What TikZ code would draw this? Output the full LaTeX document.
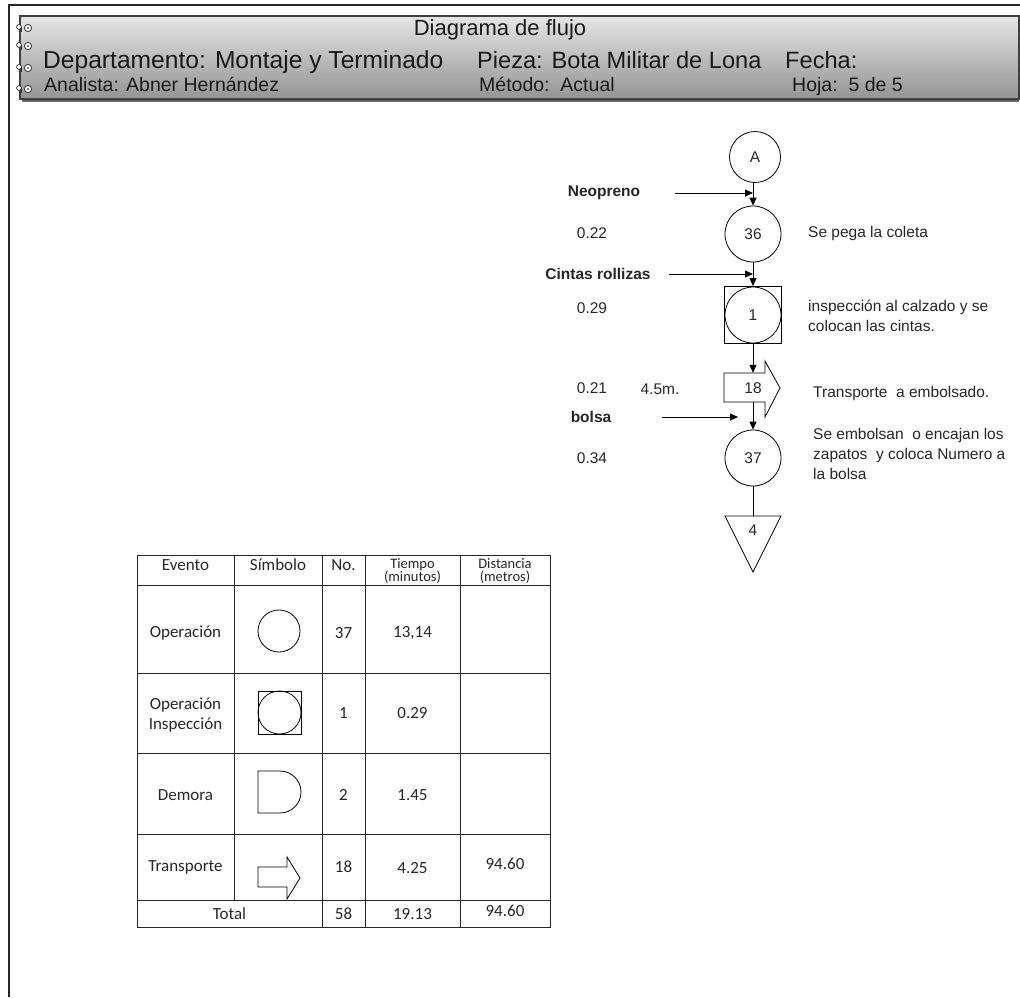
\documentclass[tikz,border=0pt]{standalone}
\usepackage{fontspec}
\setmainfont{Liberation Sans}
\newfontfamily\calfont{Carlito}
\usetikzlibrary{arrows.meta}
\newcommand\pxf[1]{\fontsize{#1}{#1}\selectfont}
\newcommand\pxfl[2]{\fontsize{#1}{#2}\selectfont}
\begin{document}
\begin{tikzpicture}[x=1pt,y=-1pt,
  txt/.style={inner sep=0pt,text=black!85,font=\pxf{15.5}},
  btxt/.style={inner sep=0pt,text=black!85,font=\pxf{15.5}\bfseries},
  opc/.style={circle,draw,line width=0.8pt,minimum size=56pt,inner sep=0pt,text=black!85,font=\pxf{15.5}},
  arr/.style={-{Triangle[length=8pt,width=7pt]},line width=0.8pt},
  ln/.style={line width=0.8pt},
  tline/.style={line width=1pt,black!85},
  ttxt/.style={inner sep=0pt,text=black!85,font=\calfont\pxf{17}},
  htxt/.style={inner sep=0pt,anchor=base west,text=black!90},
  ring/.style={line width=0.8pt,black!80}]
\useasboundingbox (0,0) rectangle (1020,997);
% page border
\draw[line width=1.3pt,black!85] (9,997) -- (9,5) -- (1020,5);
% header banner
\fill[black!55] (22,97) rectangle (1019,102);
\shade[top color=black!10,bottom color=black!42] (20,16) rectangle (1019,99);
\draw[line width=1.2pt,black!75] (20,16) rectangle (1019,99);
\draw[line width=1.5pt,black!65] (22,100.5) -- (1019,100.5);
\foreach \yy in {28,46,68,89}{
  \draw[ring,fill=white] (19,\yy-1) circle (2.4);
  \draw[ring] (21.4,\yy-1) -- (21.4,\yy+4);
  \draw[ring,fill=white] (28,\yy) circle (3.6);
  \fill[black!70] (28,\yy) circle (1.1);
}
\node[inner sep=0pt,anchor=base,text=black!90,font=\pxf{22}] (title) at (500,35) {Diagrama de flujo};
\node[htxt,font=\pxf{24.6}] (dep) at (43,68) {Departamento: Montaje y Terminado};
\node[htxt,font=\pxf{23.6}] (pie) at (477,68) {Pieza: Bota Militar de Lona};
\node[htxt,font=\pxf{23.6}] (fec) at (785,68) {Fecha:};
\node[htxt,font=\pxf{19.5}] (ana) at (44,91) {Analista: Abner Hernández};
\node[htxt,font=\pxf{19.5}] (met) at (479,91) {Método:\ \ Actual};
\node[htxt,font=\pxf{19.5}] (hoj) at (792,91) {Hoja:\ \ 5 de 5};
% flow chart
\node[opc,minimum size=51pt] (A) at (755,157) {A};
\node[opc] (o36) at (753,234) {36};
\node[draw,line width=0.8pt,minimum size=57pt,inner sep=0pt,text=black!85,font=\pxf{15.5}] (i1) at (753,315) {1};
\draw[ln] (i1.center) circle (28);
\draw[ln,fill=white] (724,373) -- (765,373) -- (765,361) -- (780,388) -- (765,417) -- (765,402) -- (724,402) -- cycle;
\node[minimum width=41pt,minimum height=29pt,inner sep=0pt] (t18) at (744.5,387.5) {};
\node[txt] (t18lbl) at (753,388) {18};
\node[opc] (o37) at (753,458) {37};
\draw[ln] (725,516) -- (781,516) -- (753,572) -- cycle;
\coordinate (tri) at (753,516);
\node[txt] (s4) at (753,530) {4};
% connectors
\draw[arr] (o36.north |- A.south) -- (o36.north);
\draw[arr] (o36.south) -- (o36.south |- i1.north);
\draw[arr] (i1.south -| o37.north) -- (o37.north |- t18.north);
\draw[arr] (o37.north |- t18.south) -- (o37.north);
\draw[ln] (o37.south) -- (tri);
\coordinate (n0) at (675,193); \coordinate (n1) at (753,193);
\coordinate (c0) at (669,274); \coordinate (c1) at (753,274);
\coordinate (b0) at (662,417); \coordinate (b1) at (738,417);
\draw[arr] (n0) -- (n1);
\draw[arr] (c0) -- (c1);
\draw[arr] (b0) -- (b1);
% labels
\node[btxt] (neo) at (604,193) {Neopreno};
\node[btxt] (cin) at (598,274) {Cintas rollizas};
\node[btxt] (bol) at (591,417) {bolsa};
\node[txt] (v1) at (592,233) {0.22};
\node[txt] (v2) at (592,308) {0.29};
\node[txt] (v3) at (592,388) {0.21};
\node[txt] (v4) at (592,458) {0.34};
\node[txt] (dist) at (660,389) {4.5m.};
\node[txt,anchor=west] (d1) at (808,233) {Se pega la coleta};
\node[txt,anchor=north west,align=left,font=\pxfl{15.5}{20}] (d2) at (808,300) {inspección al calzado y se\\colocan las cintas.};
\node[txt,anchor=west] (d3) at (813,393) {Transporte\ \ a embolsado.};
\node[txt,anchor=north west,align=left,font=\pxfl{15.5}{20}] (d4) at (813,428) {Se embolsan\ \ o encajan los\\zapatos\ \ y coloca Numero a\\la bolsa};
% table
\draw[tline] (137,555) rectangle (550,927);
\foreach \yy in {585,673,753,834,900}{\draw[tline] (137,\yy) -- (550,\yy);}
\draw[tline] (234,555) -- (234,900);
\foreach \xx in {322,365,460}{\draw[tline] (\xx,555) -- (\xx,927);}
% header row
\node[ttxt] (h1) at (185.5,565) {Evento};
\node[ttxt] (h2) at (278,565) {Símbolo};
\node[ttxt] (h3) at (343.5,565) {No.};
\node[ttxt,align=center,font=\calfont\pxfl{14.5}{13.5},anchor=north] (h4) at (412.5,558) {Tiempo\\(minutos)};
\node[ttxt,align=center,font=\calfont\pxfl{14.5}{13.5},anchor=north] (h5) at (505,558) {Distancia\\(metros)};
% row operacion
\node[ttxt] (r1a) at (185.5,633) {Operación};
\draw[line width=0.8pt] (279,631) circle (21);
\node[ttxt] (r1c) at (343.5,633) {37};
\node[ttxt] (r1d) at (412.5,633) {13,14};
% row inspeccion
\node[ttxt,align=center,font=\calfont\pxfl{17}{20}] (r2a) at (185.5,715) {Operación\\Inspección};
\draw[line width=0.8pt] (258,691) rectangle (301,734);
\draw[line width=0.8pt] (279.5,712.5) circle (21.5);
\node[ttxt] (r2c) at (343.5,713) {1};
\node[ttxt] (r2d) at (412.5,713) {0.29};
% row demora
\node[ttxt] (r3a) at (185.5,795) {Demora};
\draw[line width=0.8pt] (280,771) -- (258,771) -- (258,813) -- (280,813) arc[start angle=90,end angle=-90,radius=21];
\node[ttxt] (r3c) at (343.5,795) {2};
\node[ttxt] (r3d) at (412.5,795) {1.45};
% row transporte
\node[ttxt] (r4a) at (185.5,867) {Transporte};
\draw[line width=0.8pt] (258,867) -- (287,867) -- (287,857) -- (300,878) -- (287,899) -- (287,887) -- (258,887) -- cycle;
\node[ttxt] (r4c) at (343.5,867) {18};
\node[ttxt] (r4d) at (412.5,868) {4.25};
\node[ttxt] (r4e) at (505,864) {94.60};
% total
\node[ttxt] (r5a) at (229.5,914) {Total};
\node[ttxt] (r5c) at (343.5,914) {58};
\node[ttxt] (r5d) at (412.5,914) {19.13};
\node[ttxt] (r5e) at (505,911) {94.60};
\end{tikzpicture}
\end{document}
